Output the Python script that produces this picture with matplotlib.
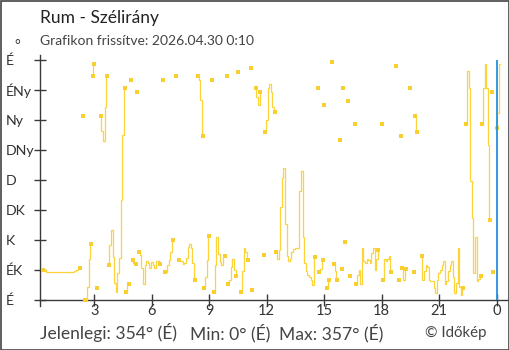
import matplotlib
matplotlib.use("Agg")
import matplotlib.pyplot as plt
from matplotlib.patches import Rectangle

plt.rcParams['font.family'] = ['Lato', 'DejaVu Sans']

title = "Rum - Szélirány"
subtitle = "Grafikon frissítve: 2026.04.30 0:10"
credit = "© Időkép"

# wind direction (degrees), 5-minute readings from 0:10 of the previous day
first_minute = 10
step_minute = 5
directions = [
    None, None, 45, 45, 42, 42, 42, 42, 42, 42, 42, 42, 42, 42, 42, 42, 42, 42, 42, 42, 42, 42,
    44, 45, 48, 48, None, 276, 0, 0, 20, 61, 84, 336, 354, None, 18, None,
    276, 253, 238, 290, 336, 52, 83, 105, 65, 25, 12, 40, 63, 150, 248, 318,
    12, 22, 24, 330, 60, 56, 54, 312,
    72, 68, 48, 24, 52, 58, 56, 48, 57, 52, 48, 58, 59, 54, None, 330,
    42, 42, 53, 60, 72, 90, None, 336, None,
    60, 59, 59, 54, 56, 63, 79, 84, 78, 55, 30, None,
    336, 330, 300, 246, 18, 35, 60, 96, None, 330,
    12, 53, 95, 69, 57, 53, 64, 66, 336,
    24, 30, 50, 62, 45, 36, 342, None, 12, 43, 78, 72, 60, None, 348, 15, None,
    318, 305, 293, 312, None, 68, 252, 270, 318, 324, 312, 290, 282,
    72, 62, 75, 140, 183, 198, 114, 66, 59, 62, 72, 76, 78, 78, 78, 163, 193, 95,
    56, 43, 38, 35, 30, 23, 64, None, 318, 42, 46, 60, 292, None, 18, 30, None, 357,
    54, 44, 30, None, 240, 46, 318, 87, None, 298, 36, None, None, 264,
    24, 38, 45, 24, 78, 58, 55, 62, 60, 56, 70, 78, 45, 62, 75, None, 264,
    30, 62, 58, 62, 66, 42, None, None, 351, None, 30, 246, 48, 30, 46, None, None,
    318, None, 42, 276, 252, None, None,
    66, 30, 44, 52, 50, 30, 28, 28, 18, 10, 30, 40, 45, 53, 58, 24, 28, 43, 53, 58,
    34, 10, 25, 78, 20, 8, 18, None,
    264, 343, 318, 178, 123, 40, 95, 28, 32, 36,
    264, 318, 354, 318, 233, 120, 312, 42, None, 258, 280, 354,
]

dir_labels = ["É", "ÉK", "K", "DK", "D", "DNy", "Ny", "ÉNy", "É"]
hour_ticks = [3, 6, 9, 12, 15, 18, 21, 24]
hour_labels = ["3", "6", "9", "12", "15", "18", "21", "0"]
now_hour = 24

hours = [(first_minute + step_minute * k) / 60 for k in range(len(directions))]

LINE = "#FDD33A"
MARK = "#F9CF2E"
AXC = "#3a3a3a"
TXT = "#333333"

W, H = 510, 350
fig = plt.figure(figsize=(W / 100, H / 100), dpi=100)
ax = fig.add_axes([40 / W, 50 / H, 469 / W, 240 / H])

# split into connected runs (gap or wrap-around jump breaks the line)
segs, cur, prev = [], [], None
for h, v in zip(hours, directions):
    if v is None:
        if cur:
            segs.append(cur)
        cur, prev = [], None
        continue
    if prev is not None and abs(v - prev) > 180:
        segs.append(cur)
        cur = []
    cur.append((h, v))
    prev = v
if cur:
    segs.append(cur)

last_point = segs[-1][-1]
for s in segs:
    xs = [p[0] for p in s]
    ys = [p[1] for p in s]
    if len(s) > 1:
        ax.plot(xs, ys, drawstyle="steps-mid", color=LINE, lw=0.9,
                solid_joinstyle="miter", clip_on=False, zorder=3)
    ends = [s[0]] if len(s) == 1 else [s[0], s[-1]]
    for p in ends:
        if p is last_point:
            continue
        ax.plot([p[0]], [p[1]], "s", ms=2.8, mew=0, color=MARK,
                clip_on=False, zorder=4)

ax.axvline(now_hour, color="#2391dc", lw=1.3, zorder=5)

ax.set_xlim(first_minute / 60, first_minute / 60 + 469 / 19.16)
ax.set_ylim(0, 360)

for side in ("top", "right"):
    ax.spines[side].set_visible(False)
for side in ("left", "bottom"):
    ax.spines[side].set_color(AXC)
    ax.spines[side].set_linewidth(1.0)
ax.spines["left"].set_bounds(-9, 368)

ax.set_yticks([45 * k for k in range(len(dir_labels))])
ax.set_yticklabels(dir_labels)
for lbl in ax.get_yticklabels():
    lbl.set_ha("left")
ax.set_xticks(hour_ticks)
ax.set_xticklabels(hour_labels)
ax.tick_params(axis="y", direction="inout", length=9, width=1.0, color=AXC,
               labelsize=10.2, labelcolor=TXT, pad=20)
ax.tick_params(axis="x", direction="inout", length=9, width=1.0, color=AXC,
               labelsize=10.5, labelcolor=TXT, pad=-1.5)

def fx(px):
    return px / W

def fy(py):
    return 1 - py / H

fig.text(fx(14.5), fy(45), "°", fontsize=10, color=TXT, ha="left", va="center")
fig.text(fx(40), fy(18), title, fontsize=12.5, color="#222222", ha="left", va="center")
fig.text(fx(40), fy(41), subtitle, fontsize=10, color="#444444", ha="left", va="center")

valid = [v for v in directions if v is not None]
cur_v, min_v, max_v = valid[-1], min(valid), max(valid)

def sector(v):
    return dir_labels[int(round(v / 45.0)) % 8]

fig.text(fx(40), fy(333), f"Jelenlegi: {cur_v}° ({sector(cur_v)})", fontsize=12.6,
         color="#444444", ha="left", va="center")
fig.text(fx(190), fy(333), f"Min: {min_v}° ({sector(min_v)})", fontsize=12.6,
         color="#444444", ha="left", va="center")
fig.text(fx(279), fy(333), f"Max: {max_v}° ({sector(max_v)})", fontsize=12.6,
         color="#444444", ha="left", va="center")
fig.text(fx(425), fy(333), credit, fontsize=10.8, color="#444444", ha="left", va="center")

fig.patches.append(Rectangle((0.5 / W, 0.5 / H), (W - 1.5) / W, (H - 1) / H,
                             transform=fig.transFigure, fill=False,
                             edgecolor="#444444", lw=1.2))

fig.savefig("out.png", dpi=100)
